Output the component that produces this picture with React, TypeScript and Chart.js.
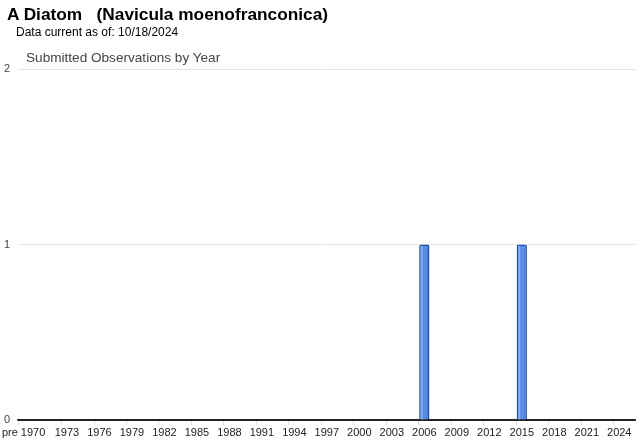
import React, { useEffect, useRef } from "react";
import { Chart, registerables } from "chart.js";

Chart.register(...registerables);

const speciesTitle = "A Diatom   (Navicula moenofranconica)";
const dataDate = "Data current as of: 10/18/2024";
const chartTitle = "Submitted Observations by Year";

const categories: string[] = [
  "pre 1970",
  "1970", "1971", "1972", "1973", "1974", "1975", "1976", "1977", "1978", "1979",
  "1980", "1981", "1982", "1983", "1984", "1985", "1986", "1987", "1988", "1989",
  "1990", "1991", "1992", "1993", "1994", "1995", "1996", "1997", "1998", "1999",
  "2000", "2001", "2002", "2003", "2004", "2005", "2006", "2007", "2008", "2009",
  "2010", "2011", "2012", "2013", "2014", "2015", "2016", "2017", "2018", "2019",
  "2020", "2021", "2022", "2023", "2024", "2025",
];

const observations: number[] = [
  0,
  0, 0, 0, 0, 0, 0, 0, 0, 0, 0,
  0, 0, 0, 0, 0, 0, 0, 0, 0, 0,
  0, 0, 0, 0, 0, 0, 0, 0, 0, 0,
  0, 0, 0, 0, 0, 0, 1, 0, 0, 0,
  0, 0, 0, 0, 0, 1, 0, 0, 0, 0,
  0, 0, 0, 0, 0, 0,
];

const shownTickLabels: string[] = [
  "pre 1970", "1973", "1976", "1979", "1982", "1985", "1988", "1991", "1994",
  "1997", "2000", "2003", "2006", "2009", "2012", "2015", "2018", "2021", "2024",
];

const yTicks: number[] = [0, 1, 2];

const barShine = {
  id: "barShine",
  afterDatasetsDraw(chart: any) {
    const ctx = chart.ctx;
    const meta = chart.getDatasetMeta(0);
    meta.data.forEach((el: any, i: number) => {
      if (!observations[i]) return;
      const { x, y, base, width } = el.getProps(["x", "y", "base", "width"], true);
      const l = x - width / 2 + 1.5;
      const r = x + width / 2 - 1.5;
      const g = ctx.createLinearGradient(l, 0, r, 0);
      g.addColorStop(0, "rgba(255,255,255,0.12)");
      g.addColorStop(0.2, "rgba(255,255,255,0.4)");
      g.addColorStop(0.35, "rgba(255,255,255,0.05)");
      g.addColorStop(0.7, "rgba(255,255,255,0.1)");
      g.addColorStop(1, "rgba(0,0,40,0.1)");
      ctx.save();
      ctx.fillStyle = g;
      ctx.fillRect(l, y + 1.5, r - l, base - y - 1.5);
      ctx.restore();
    });
  },
};

export default function App() {
  const canvasRef = useRef<HTMLCanvasElement | null>(null);

  useEffect(() => {
    const canvas = canvasRef.current;
    if (!canvas) return;
    const chart = new Chart(canvas, {
      type: "bar",
      data: {
        labels: categories,
        datasets: [
          {
            data: observations,
            backgroundColor: "#4a83e4",
            borderColor: "#1f52b4",
            borderWidth: 1.5,
            borderRadius: 1.5,
            borderSkipped: "bottom",
            barPercentage: 0.95,
            categoryPercentage: 1,
          },
        ],
      },
      options: {
        responsive: false,
        animation: false,
        maintainAspectRatio: false,
        layout: { padding: { left: 0, right: 4.5, top: 69, bottom: 0 } },
        plugins: {
          legend: { display: false },
          tooltip: { enabled: false },
          title: { display: false },
        },
        scales: {
          x: {
            type: "category",
            afterFit: (s: any) => {
              s.height = 22;
            },
            border: { display: true, color: "#222", width: 1.5 },
            grid: {
              drawOnChartArea: false,
              drawTicks: true,
              tickLength: 5,
              color: (ctx: any) => {
                const lab = categories[ctx.index];
                return shownTickLabels.includes(lab) ? "#dcdcdc" : "rgba(0,0,0,0)";
              },
            },
            ticks: {
              autoSkip: false,
              maxRotation: 0,
              minRotation: 0,
              padding: 1,
              color: "#222",
              font: { family: "Arial, 'Liberation Sans'", size: 11 },
              callback: (_v: any, i: number) =>
                shownTickLabels.includes(categories[i]) ? categories[i] : "",
            },
          },
          y: {
            min: 0,
            max: 2,
            afterFit: (s: any) => {
              s.width = 18.2;
            },
            afterBuildTicks: (s: any) => {
              s.ticks = yTicks.map((v) => ({ value: v }));
            },
            border: { display: false },
            grid: {
              drawTicks: false,
              color: (ctx: any) => (ctx.tick && ctx.tick.value === 0 ? "#222" : "#e4e4e4"),
              lineWidth: 1,
            },
            ticks: {
              padding: 8,
              color: "#444",
              font: { family: "Arial, 'Liberation Sans'", size: 11 },
              callback: (v: any) => String(v),
            },
          },
        },
      },
      plugins: [barShine],
    });
    return () => chart.destroy();
  }, []);

  return (
    <div
      style={{
        position: "fixed",
        left: 0,
        top: 0,
        width: 640,
        height: 442,
        background: "#fff",
        fontFamily: "Arial, 'Liberation Sans', sans-serif",
      }}
    >
      <canvas
        ref={canvasRef}
        width={640}
        height={442}
        style={{ position: "absolute", left: 0, top: 0, width: 640, height: 442 }}
      />
      <div
        style={{
          position: "absolute",
          left: 7,
          top: 4,
          fontSize: 17.3,
          fontWeight: "bold",
          whiteSpace: "pre",
          color: "#000",
          lineHeight: "20px",
        }}
      >
        {speciesTitle}
      </div>
      <div
        style={{
          position: "absolute",
          left: 16,
          top: 25,
          fontSize: 12,
          color: "#000",
          lineHeight: "14px",
          whiteSpace: "pre",
        }}
      >
        {dataDate}
      </div>
      <div
        style={{
          position: "absolute",
          left: 26,
          top: 49,
          fontSize: 13.6,
          color: "#444",
          lineHeight: "18px",
          whiteSpace: "pre",
        }}
      >
        {chartTitle}
      </div>
    </div>
  );
}
